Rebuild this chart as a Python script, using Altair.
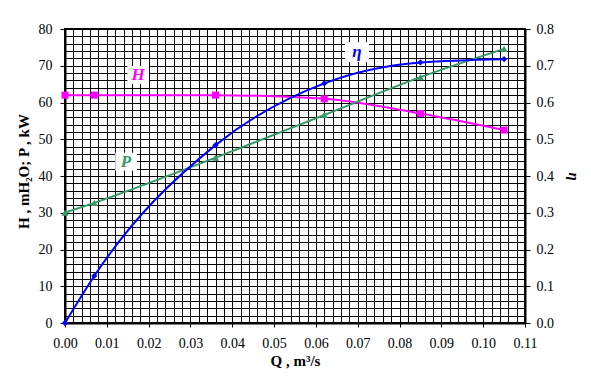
import altair as alt
import pandas as pd

# ---- data ----
Q = [0.0, 0.007, 0.036, 0.062, 0.085, 0.105]
H = [62.0, 62.0, 62.0, 61.0, 57.0, 52.5]
P = [30.0, 32.7, 45.0, 56.6, 66.9, 74.6]
ETA = [0.0, 0.128, 0.484, 0.652, 0.709, 0.718]

HP_LABELS = ["H", "P"]
HP_LABEL_Q = [0.0175, 0.0146]
HP_LABEL_V = [67.5, 43.9]
ETA_LABEL = ["η"]
ETA_LABEL_Q = [0.0698]
ETA_LABEL_V = [0.737]

X_TICKS = [i * 2 for i in range(56)]          # grid every 0.002 m³/s, in thousandths
Y_TICKS = list(range(0, 81, 2))
ETA_AXIS_TICKS = list(range(0, 81, 10))       # positions of 0.0 .. 0.8 on the shared scale

FONT = "Liberation Serif"
COL_H = "#FF00FF"
COL_P = "#339966"
COL_P_TXT = "#008000"
COL_ETA = "#0000FF"

hp = pd.DataFrame(
    {"Q": Q * 2, "v": H + P, "s": ["H"] * len(Q) + ["P"] * len(Q)}
)
eta = pd.DataFrame({"Q": Q, "eta": ETA})
hp_lab = pd.DataFrame({"Q": HP_LABEL_Q, "v": HP_LABEL_V, "s": HP_LABELS})
eta_lab = pd.DataFrame({"Q": ETA_LABEL_Q, "eta": ETA_LABEL_V, "t": ETA_LABEL})

xscale = alt.Scale(domain=[0, 110], nice=False)
yscale = alt.Scale(domain=[0, 80], nice=False)

major = "datum.value % 10 == 0"

x_axis = alt.Axis(
    orient="bottom",
    values=X_TICKS,
    grid=True, gridColor="black", gridOpacity=1, gridWidth=1,
    domainColor="black", domainWidth=2,
    tickColor="black", tickSize=4, tickWidth=1,
    tickOpacity={"condition": {"test": major, "value": 1}, "value": 0},
    labelExpr=f"{major} ? format(datum.value / 1000, '.2f') : ''",
    labelOverlap=False, labelFlush=False, labelBound=False,
    labelFont=FONT, labelFontSize=14, labelColor="black", labelPadding=9,
    title="Q , m³/s", titleFont=FONT, titleFontSize=15, titleFontWeight="bold",
    titleColor="black", titlePadding=3,
)
y_axis = alt.Axis(
    orient="left",
    values=Y_TICKS,
    grid=True, gridColor="black", gridOpacity=1, gridWidth=1,
    domainColor="black", domainWidth=2,
    tickColor="black", tickSize=5, tickWidth=1,
    tickOpacity={"condition": {"test": major, "value": 1}, "value": 0},
    labelExpr=f"{major} ? format(datum.value, 'd') : ''",
    labelOverlap=False, labelFlush=False, labelBound=False,
    labelFont=FONT, labelFontSize=14, labelColor="black", labelPadding=8,
    title="H , mH₂O; P , kW", titleFont=FONT, titleFontSize=15,
    titleFontWeight="bold", titleColor="black", titleX=-34, titleY=142,
)
e_axis = alt.Axis(
    orient="right", values=ETA_AXIS_TICKS, grid=False,
    domainColor="black", domainWidth=2,
    tickColor="black", tickSize=5, tickWidth=1,
    labelExpr="format(datum.value / 100, '.1f')",
    labelOverlap=False, labelFlush=False, labelBound=False,
    labelFont=FONT, labelFontSize=14, labelColor="black", labelPadding=6,
    title="η", titleFont=FONT, titleFontSize=15, titleFontWeight="bold",
    titleFontStyle="italic", titleColor="black", titlePadding=12,
)

color = alt.Color("s:N", scale=alt.Scale(domain=["H", "P"], range=[COL_H, COL_P]), legend=None)
box_shape = "M-1.2,-1 L1.2,-1 L1.2,1 L-1.2,1 Z"


def base(df, ycalc=None):
    c = alt.Chart(df).transform_calculate(qx="datum.Q * 1000")
    if ycalc:
        c = c.transform_calculate(ey=ycalc)
    return c


hp_line = base(hp).mark_line(strokeWidth=2, interpolate="monotone").encode(
    x=alt.X("qx:Q", scale=xscale, axis=x_axis),
    y=alt.Y("v:Q", scale=yscale, axis=y_axis),
    color=color,
    detail="s:N",
)
hp_pts = base(hp).mark_point(filled=True, opacity=1, size=50).encode(
    x=alt.X("qx:Q", axis=None),
    y=alt.Y("v:Q", axis=None),
    color=color,
    shape=alt.Shape("s:N", scale=alt.Scale(domain=["H", "P"], range=["square", "triangle-up"]), legend=None),
)
hp_box = base(hp_lab).mark_point(
    shape=box_shape, filled=True, fill="white", opacity=1, size=324, strokeWidth=0
).encode(
    x=alt.X("qx:Q", axis=None),
    y=alt.Y("v:Q", axis=None),
)
hp_txt = base(hp_lab).mark_text(
    font=FONT, fontSize=17, fontWeight="bold", fontStyle="italic", baseline="middle", align="center"
).encode(
    x=alt.X("qx:Q", axis=None),
    y=alt.Y("v:Q", axis=None),
    text="s:N",
    color=alt.Color("s:N", scale=alt.Scale(domain=["H", "P"], range=[COL_H, COL_P_TXT]), legend=None),
)

# eta (0..0.8) drawn against the right axis, which maps 0..0.8 onto the same 0..80 pixel range
eta_line = base(eta, "datum.eta * 100").mark_line(strokeWidth=2, interpolate="monotone", color=COL_ETA).encode(
    x=alt.X("qx:Q", axis=None),
    y=alt.Y("ey:Q", axis=e_axis),
)
eta_pts = base(eta, "datum.eta * 100").mark_point(
    filled=True, opacity=1, size=40, shape="diamond", color=COL_ETA
).encode(
    x=alt.X("qx:Q", axis=None),
    y=alt.Y("ey:Q", axis=None),
)
eta_box = base(eta_lab, "datum.eta * 100").mark_point(
    shape=box_shape, filled=True, fill="white", opacity=1, size=400, strokeWidth=0
).encode(
    x=alt.X("qx:Q", axis=None),
    y=alt.Y("ey:Q", axis=None),
)
eta_txt = base(eta_lab, "datum.eta * 100").mark_text(
    font=FONT, fontSize=17, fontWeight="bold", fontStyle="italic", baseline="middle", align="center",
    color=COL_ETA,
).encode(
    x=alt.X("qx:Q", axis=None),
    y=alt.Y("ey:Q", axis=None),
    text="t:N",
)

chart = (
    alt.layer(hp_line, eta_line, hp_box, hp_txt, eta_box, eta_txt, hp_pts, eta_pts)
    .resolve_axis(x="independent", y="independent")
    .properties(
        width=460,
        height=294,
        background="white",
        autosize=alt.AutoSizeParams(type="none"),
        padding={"left": 57, "top": 21, "right": 58, "bottom": 56},
    )
    .configure_view(stroke="black", strokeWidth=2)
)

chart.save("out.html", embed_options={"renderer": "svg", "actions": False})
